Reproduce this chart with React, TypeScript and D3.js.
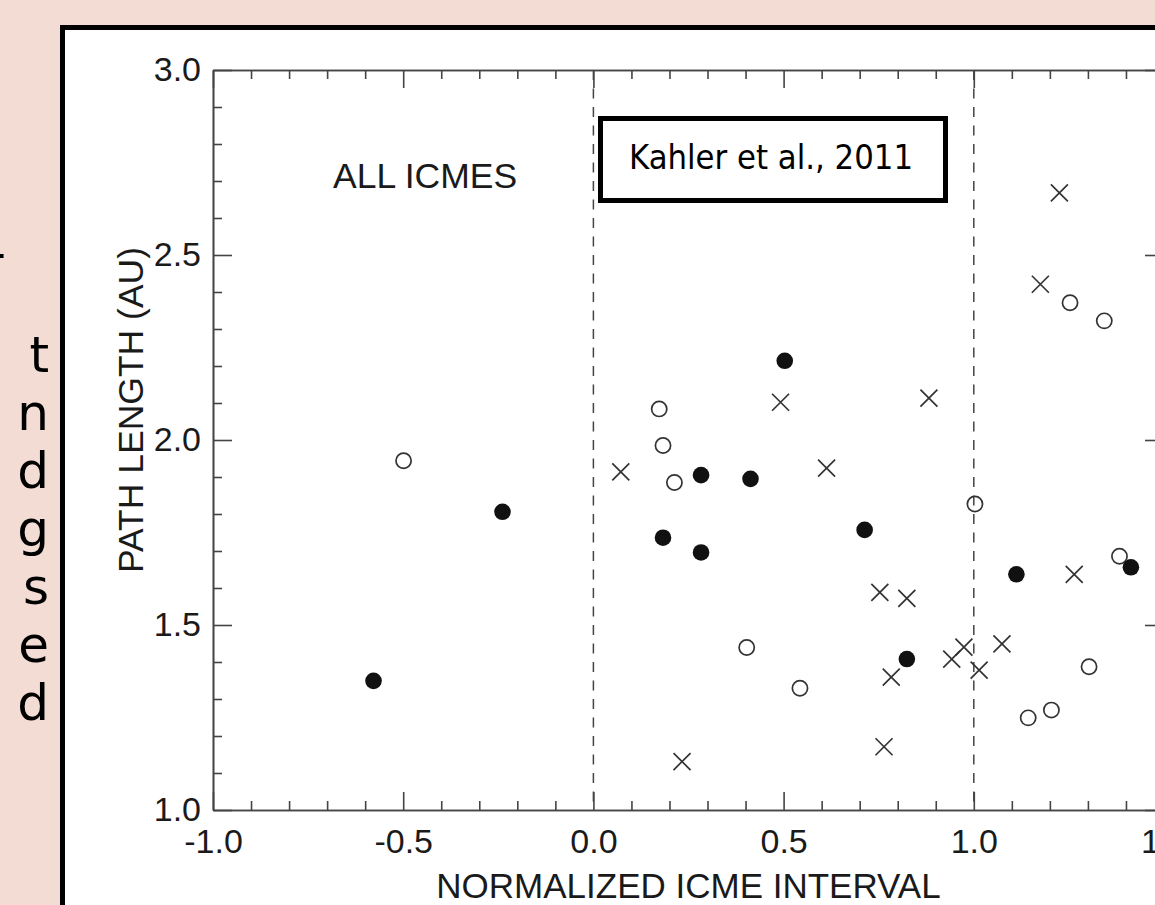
import React, { useEffect, useRef } from 'react';
import * as d3 from 'd3';

// axis ticks and labels
const xMajor = [-1.0, -0.5, 0.0, 0.5, 1.0, 1.5];
const xTickLabels = ['-1.0', '-0.5', '0.0', '0.5', '1.0', '1.5'];
const yMajor = [1.0, 1.5, 2.0, 2.5, 3.0];
const yTickLabels = ['1.0', '1.5', '2.0', '2.5', '3.0'];
const dividers = [0.0, 1.0];

// filled circles
const filledX = [-0.578, -0.239, 0.503, 0.283, 0.413, 0.183, 0.283, 0.713, 0.824, 1.112, 1.413];
const filledY = [1.349, 1.806, 2.214, 1.905, 1.895, 1.736, 1.696, 1.757, 1.408, 1.637, 1.656];

// open circles
const openX = [-0.499, 0.173, 0.183, 0.213, 0.403, 0.543, 1.003, 1.383, 1.303, 1.143, 1.204, 1.253, 1.343];
const openY = [1.944, 2.084, 1.985, 1.885, 1.439, 1.329, 1.827, 1.686, 1.387, 1.249, 1.270, 2.371, 2.322];

// crosses
const crossX = [0.072, 0.492, 0.882, 0.613, 0.753, 0.824, 0.783, 0.942, 0.974, 1.014, 1.074, 1.264, 0.764, 0.233, 1.225, 1.175];
const crossY = [1.914, 2.102, 2.113, 1.924, 1.588, 1.572, 1.359, 1.408, 1.440, 1.378, 1.449, 1.637, 1.171, 1.131, 2.668, 2.421];

// line endings of the slide text, cut off by the figure
const sideLetters = ['t', 'n', 'd', 'g', 's', 'e', 'd'];

const App = () => {
  const ref = useRef<SVGSVGElement>(null);

  useEffect(() => {
    const width = 1155;
    const height = 905;
    const left = 213, right = 1164, top = 70, bottom = 810;
    const font = '"Liberation Sans", Arial, Helvetica, sans-serif';
    const slideFont = '"DejaVu Sans", Verdana, sans-serif';
    const axisColor = '#444';

    const svg = d3.select(ref.current);
    svg.selectAll('*').remove();
    svg.attr('width', width).attr('height', height);

    svg.append('rect').attr('width', width).attr('height', height).attr('fill', '#f2dcd4');

    // slide text endings
    svg.append('text')
      .attr('x', 6).attr('y', 270)
      .attr('text-anchor', 'end')
      .attr('font-family', slideFont).attr('font-size', 50)
      .attr('fill', '#000')
      .text('-');
    svg.append('g')
      .selectAll('text')
      .data(sideLetters)
      .join('text')
      .attr('x', 49)
      .attr('y', (d, i) => 372 + i * 58)
      .attr('text-anchor', 'end')
      .attr('font-family', slideFont).attr('font-size', 50)
      .attr('fill', '#000')
      .text(d => d);

    // white figure panel with black frame
    svg.append('rect')
      .attr('x', 62.5).attr('y', 27.5)
      .attr('width', 1200).attr('height', 1000)
      .attr('fill', '#fff').attr('stroke', '#000').attr('stroke-width', 5);

    const x = d3.scaleLinear().domain([-1, 1.5]).range([left, right]);
    const y = d3.scaleLinear().domain([1, 3]).range([bottom, top]);

    const xMinor = d3.range(0, 26).map(i => -1 + i * 0.1).filter(v => Math.abs(v * 2 - Math.round(v * 2)) > 1e-6);
    const yMinor = d3.range(0, 21).map(i => 1 + i * 0.1).filter(v => Math.abs(v * 2 - Math.round(v * 2)) > 1e-6);

    const styleAxis = (g: any) => {
      g.select('.domain').attr('stroke', axisColor).attr('stroke-width', 1.6);
      g.selectAll('.tick line').attr('stroke', axisColor).attr('stroke-width', 1.6);
      g.selectAll('.tick text')
        .attr('fill', '#1a1a1a')
        .attr('font-family', font)
        .attr('font-size', 34);
    };

    // bottom
    svg.append('g').attr('transform', `translate(0,${bottom})`)
      .call(d3.axisBottom(x).tickValues(xMajor).tickSize(-18).tickSizeOuter(0).tickPadding(19)
        .tickFormat((d, i) => xTickLabels[i]))
      .call(styleAxis);
    svg.append('g').attr('transform', `translate(0,${bottom})`)
      .call(d3.axisBottom(x).tickValues(xMinor).tickSize(-9).tickSizeOuter(0).tickFormat(() => ''))
      .call(styleAxis);
    // top
    svg.append('g').attr('transform', `translate(0,${top})`)
      .call(d3.axisTop(x).tickValues(xMajor).tickSize(-18).tickSizeOuter(0).tickFormat(() => ''))
      .call(styleAxis);
    svg.append('g').attr('transform', `translate(0,${top})`)
      .call(d3.axisTop(x).tickValues(xMinor).tickSize(-9).tickSizeOuter(0).tickFormat(() => ''))
      .call(styleAxis);
    // left
    svg.append('g').attr('transform', `translate(${left},0)`)
      .call(d3.axisLeft(y).tickValues(yMajor).tickSize(-19).tickSizeOuter(0).tickPadding(12)
        .tickFormat((d, i) => yTickLabels[i]))
      .call(styleAxis);
    svg.append('g').attr('transform', `translate(${left},0)`)
      .call(d3.axisLeft(y).tickValues(yMinor).tickSize(-9).tickSizeOuter(0).tickFormat(() => ''))
      .call(styleAxis);
    // right
    svg.append('g').attr('transform', `translate(${right},0)`)
      .call(d3.axisRight(y).tickValues(yMajor).tickSize(-19).tickSizeOuter(0).tickFormat(() => ''))
      .call(styleAxis);
    svg.append('g').attr('transform', `translate(${right},0)`)
      .call(d3.axisRight(y).tickValues(yMinor).tickSize(-9).tickSizeOuter(0).tickFormat(() => ''))
      .call(styleAxis);

    // dashed dividers
    svg.append('g')
      .selectAll('line')
      .data(dividers)
      .join('line')
      .attr('x1', d => x(d)).attr('x2', d => x(d))
      .attr('y1', top).attr('y2', bottom)
      .attr('stroke', axisColor).attr('stroke-width', 1.5)
      .attr('stroke-dasharray', '10,8.5');

    // axis titles
    svg.append('text')
      .attr('x', (left + right) / 2).attr('y', 898)
      .attr('text-anchor', 'middle')
      .attr('font-family', font).attr('font-size', 35).attr('fill', '#1a1a1a')
      .text('NORMALIZED ICME INTERVAL');
    svg.append('text')
      .attr('transform', 'translate(143,410) rotate(-90)')
      .attr('text-anchor', 'middle')
      .attr('font-family', font).attr('font-size', 35.5).attr('fill', '#1a1a1a')
      .text('PATH LENGTH (AU)');

    svg.append('text')
      .attr('x', 333).attr('y', 188)
      .attr('font-family', font).attr('font-size', 35.5).attr('fill', '#1a1a1a')
      .text('ALL ICMES');

    // citation box
    svg.append('rect')
      .attr('x', 600.5).attr('y', 118.5)
      .attr('width', 345).attr('height', 82)
      .attr('fill', '#fff').attr('stroke', '#000').attr('stroke-width', 5);
    svg.append('text')
      .attr('x', 629).attr('y', 169)
      .attr('font-family', slideFont).attr('font-size', 34).attr('fill', '#000')
      .attr('textLength', 284).attr('lengthAdjust', 'spacingAndGlyphs')
      .text('Kahler et al., 2011');

    // markers
    svg.append('g')
      .selectAll('circle')
      .data(openX.map((v, i) => [v, openY[i]]))
      .join('circle')
      .attr('cx', d => x(d[0])).attr('cy', d => y(d[1]))
      .attr('r', 7.6)
      .attr('fill', 'none').attr('stroke', '#333').attr('stroke-width', 1.7);

    const s = 8.5;
    svg.append('g')
      .selectAll('path')
      .data(crossX.map((v, i) => [v, crossY[i]]))
      .join('path')
      .attr('d', d => {
        const cx = x(d[0]), cy = y(d[1]);
        return `M${cx - s},${cy - s}L${cx + s},${cy + s}M${cx - s},${cy + s}L${cx + s},${cy - s}`;
      })
      .attr('fill', 'none').attr('stroke', '#333').attr('stroke-width', 1.7);

    svg.append('g')
      .selectAll('circle')
      .data(filledX.map((v, i) => [v, filledY[i]]))
      .join('circle')
      .attr('cx', d => x(d[0])).attr('cy', d => y(d[1]))
      .attr('r', 8.3)
      .attr('fill', '#111');
  }, []);

  return <svg ref={ref} style={{ position: 'absolute', left: 0, top: 0, display: 'block' }} />;
};

export default App;
